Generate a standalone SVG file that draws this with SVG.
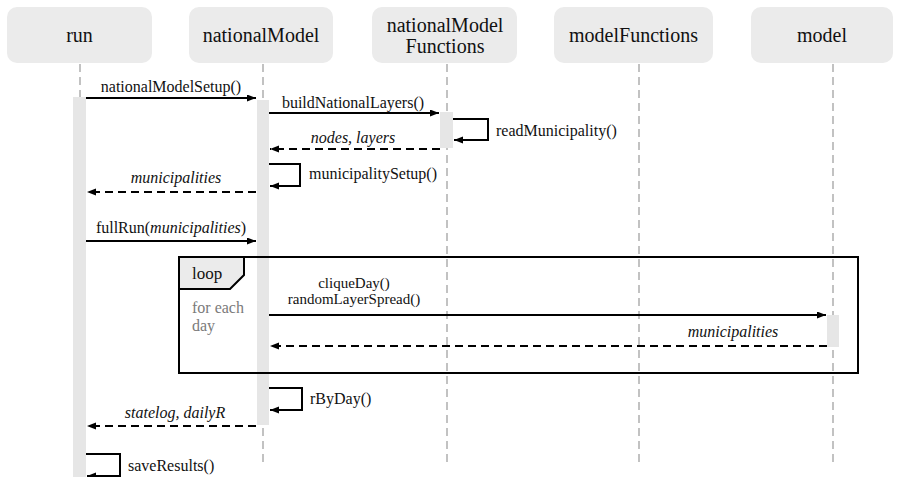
<svg xmlns="http://www.w3.org/2000/svg" width="902" height="477" viewBox="0 0 902 477" font-family="'Liberation Serif', Tinos, 'Noto Serif', 'Times New Roman', Times, 'Nimbus Roman', FreeSerif, 'DejaVu Serif', serif">
  <defs>
    <marker id="arrow" markerUnits="userSpaceOnUse" markerWidth="10" markerHeight="8" refX="9" refY="3.5" orient="auto">
      <path d="M0,0 L9,3.5 L0,7 z" fill="#000"/>
    </marker>
    <style>
      text { font-family: 'Liberation Serif', Tinos, 'Noto Serif', 'Times New Roman', Times, 'Nimbus Roman', FreeSerif, 'DejaVu Serif', serif; fill: #111; }
      .head { fill: #ebebeb; }
      .hlabel { font-size: 20px; text-anchor: middle; }
      .life { stroke: #9a9a9a; stroke-width: 1.2; stroke-dasharray: 8 5; fill: none; }
      .bar { fill: #e6e6e6; }
      .msg { font-size: 16px; }
      .tight { font-size: 15px; }
      .mid { text-anchor: middle; }
      .it { font-style: italic; }
      .call { stroke: #000; stroke-width: 2; fill: none; marker-end: url(#arrow); }
      .ret { stroke: #000; stroke-width: 2; fill: none; stroke-dasharray: 8 5; marker-end: url(#arrow); }
      .frame { stroke: #000; stroke-width: 2; fill: none; }
      .note { font-size: 16px; fill: #7a7a7a; }
    </style>
  </defs>

  <!-- participants -->
  <g id="run">
    <rect class="head" x="7" y="7" width="145" height="56" rx="10"/>
    <text class="hlabel" x="79.5" y="42">run</text>
    <line class="life" x1="80" y1="64" x2="80" y2="470"/>
    <rect class="bar" x="73" y="97" width="13" height="380"/>
  </g>
  <g id="nationalModel">
    <rect class="head" x="189" y="7" width="144" height="56" rx="10"/>
    <text class="hlabel" x="261" y="42">nationalModel</text>
    <line class="life" x1="263" y1="64" x2="263" y2="463"/>
    <rect class="bar" x="257" y="100" width="12" height="325"/>
  </g>
  <g id="nationalModelFunctions">
    <rect class="head" x="372" y="7" width="145" height="56" rx="10"/>
    <text class="hlabel" x="445" y="32">nationalModel</text>
    <text class="hlabel" x="445" y="53">Functions</text>
    <line class="life" x1="447" y1="64" x2="447" y2="463"/>
    <rect class="bar" x="440" y="112" width="13" height="36"/>
  </g>
  <g id="modelFunctions">
    <rect class="head" x="554" y="7" width="159" height="56" rx="10"/>
    <text class="hlabel" x="633.5" y="42">modelFunctions</text>
    <line class="life" x1="639" y1="64" x2="639" y2="463"/>
  </g>
  <g id="model">
    <rect class="head" x="751" y="7" width="142" height="56" rx="10"/>
    <text class="hlabel" x="822" y="42">model</text>
    <line class="life" x1="833" y1="64" x2="833" y2="463"/>
    <rect class="bar" x="827" y="315" width="12" height="32"/>
  </g>

  <!-- loop fragment -->
  <g id="loop">
    <rect class="frame" x="179" y="257" width="679" height="116"/>
    <path d="M179,257 L244,257 L244,275 L230,289 L179,289 z" fill="#ebebeb" stroke="#000" stroke-width="2"/>
    <text class="msg" x="192" y="279" style="font-size:17px">loop</text>
    <text class="note" x="192" y="313">for each</text>
    <text class="note" x="192" y="331">day</text>
  </g>

  <!-- messages -->
  <g id="connectors">
    <line class="call" x1="86" y1="98" x2="256" y2="98"/>
    <text class="msg mid" x="171" y="92">nationalModelSetup()</text>

    <line class="call" x1="269" y1="113" x2="439" y2="113"/>
    <text class="msg mid" x="353" y="108">buildNationalLayers()</text>

    <path class="call" d="M453,119 H488 V140 H454"/>
    <text class="msg" x="496" y="136">readMunicipality()</text>

    <line class="ret" x1="440" y1="149" x2="270" y2="149"/>
    <text class="msg mid it" x="353" y="143">nodes, layers</text>

    <path class="call" d="M269,164 H300 V186 H270"/>
    <text class="msg" x="309" y="179">municipalitySetup()</text>

    <line class="ret" x1="256" y1="192" x2="87" y2="192"/>
    <text class="msg mid it" x="176" y="183">municipalities</text>

    <line class="call" x1="86" y1="241" x2="256" y2="241"/>
    <text class="msg mid" x="171" y="233">fullRun(<tspan class="it">municipalities</tspan>)</text>

    <line class="call" x1="269" y1="315" x2="826" y2="315"/>
    <text class="tight mid" x="354" y="288">cliqueDay()</text>
    <text class="tight mid" x="354" y="304">randomLayerSpread()</text>

    <line class="ret" x1="827" y1="346" x2="270" y2="346"/>
    <text class="msg mid it" x="733" y="337">municipalities</text>

    <path class="call" d="M269,388 H302 V410 H270"/>
    <text class="msg" x="310" y="404">rByDay()</text>

    <line class="ret" x1="256" y1="426" x2="87" y2="426"/>
    <text class="msg mid it" x="175" y="418">statelog, dailyR</text>

    <path class="call" d="M86,454 H120 V476 H87"/>
    <text class="msg" x="128" y="471">saveResults()</text>
  </g>
</svg>
